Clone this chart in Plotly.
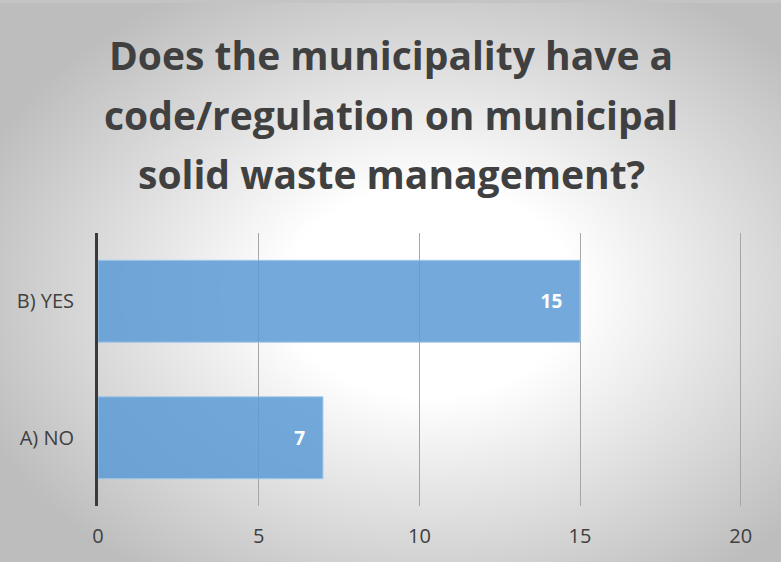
import base64
import plotly.graph_objects as go

categories = ["A) NO", "B) YES"]
values = [7, 15]
title_lines = ["Does the municipality have a",
               "code/regulation on municipal",
               "solid waste management?"]
x_ticks = [0, 5, 10, 15, 20]

W, H = 781, 562
L, R, T, B = 98, 38, 233, 56
PW, PH = W - L - R, H - T - B

svg = f'''<svg xmlns="http://www.w3.org/2000/svg" width="{W}" height="{H}">
<defs><radialGradient id="g" cx="0.55" cy="0.52" r="0.62" gradientUnits="objectBoundingBox">
<stop offset="0" stop-color="#ffffff"/><stop offset="0.3" stop-color="#ffffff"/>
<stop offset="1" stop-color="#bdbdbd"/></radialGradient></defs>
<rect width="{W}" height="{H}" fill="url(#g)"/>
<rect width="{W}" height="3" fill="#c4c4c4"/>
</svg>'''
bg = "data:image/svg+xml;base64," + base64.b64encode(svg.encode()).decode()

fig = go.Figure()
fig.add_trace(go.Bar(
    y=categories, x=values, orientation="h",
    marker=dict(color="rgba(91,155,213,0.85)", line=dict(color="rgba(160,200,235,0.9)", width=1)),
    text=[f"{v}\u00a0\u00a0\u00a0" for v in values], textposition="inside", insidetextanchor="end",
    textfont=dict(family="Open Sans", size=19, color="white", weight="bold"),
    cliponaxis=False,
))

annotations = []
for i, line in enumerate(title_lines):
    annotations.append(dict(
        text=f"<b>{line}</b>", xref="paper", yref="paper",
        x=(391 - L) / PW, xanchor="center",
        y=1 + (T - (54 + 60 * i)) / PH, yanchor="middle",
        showarrow=False, font=dict(family="Open Sans", size=39, color="#404040"),
    ))

fig.update_layout(
    width=W, height=H,
    margin=dict(l=L, r=R, t=T, b=B),
    paper_bgcolor="rgba(0,0,0,0)", plot_bgcolor="rgba(0,0,0,0)",
    images=[dict(source=bg, xref="paper", yref="paper",
                 x=-L / PW, y=1 + T / PH, sizex=W / PW, sizey=H / PH,
                 xanchor="left", yanchor="top", sizing="stretch", layer="below")],
    bargap=0.4,
    showlegend=False,
    annotations=annotations,
    font=dict(family="Open Sans", color="#404040"),
    xaxis=dict(range=[0, 20.07], tickvals=x_ticks, showgrid=True, gridcolor="#a6a6a6",
               gridwidth=1, zeroline=False, showline=False,
               tickfont=dict(size=20, color="#404040"), ticks="", ticklabelstandoff=16),
    yaxis=dict(showline=True, linecolor="#3a3a3a", linewidth=3, showgrid=False,
               tickfont=dict(size=20, color="#404040"), ticks="", ticklabelstandoff=17),
)
fig.write_html("out.html", config={"displayModeBar": False},
               post_script="document.body.style.margin='0';document.body.style.padding='0';")
